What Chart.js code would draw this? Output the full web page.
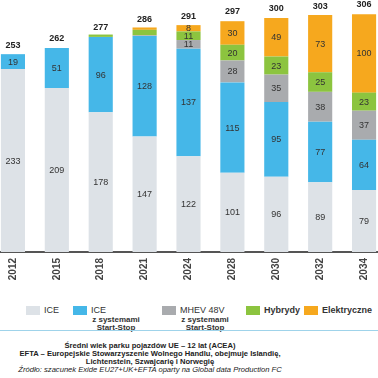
<!DOCTYPE html>
<html><head><meta charset="utf-8">
<script src="https://cdn.jsdelivr.net/npm/chart.js@4"></script>
<style>
html,body{margin:0;padding:0;background:#fff;width:378px;height:378px;overflow:hidden;font-family:"Liberation Sans",Arial,sans-serif;}
#wrap{position:absolute;left:-9px;top:0;width:395px;height:284px;}
.sw{position:absolute;width:14px;height:9px;}
.lt{position:absolute;font-size:9px;color:#333;white-space:nowrap;line-height:9px;}
.sub{position:absolute;font-size:8px;font-weight:bold;color:#333;text-align:center;line-height:8px;white-space:nowrap;}
#sep{position:absolute;left:0;width:378px;top:330px;height:1px;background:#9fd3ea;}
.fn{position:absolute;left:0;width:300px;text-align:center;font-size:7.6px;font-weight:bold;color:#222;line-height:8px;white-space:nowrap;}
</style></head><body>
<div id="wrap"><canvas id="c"></canvas></div>
<div id="legend"></div>
<div id="sep"></div>
<div class="fn" style="top:342px">Średni wiek parku pojazdów UE – 12 lat (ACEA)</div>
<div class="fn" style="top:350px">EFTA – Europejskie Stowarzyszenie Wolnego Handlu, obejmuje Islandię,</div>
<div class="fn" style="top:358px">Lichtenstein, Szwajcarię i Norwegię</div>
<div class="fn" style="top:366px;font-weight:normal;font-style:italic;">Źródło: szacunek Exide EU27+UK+EFTA oparty na Global data Production FC</div>
<script>
const years = ["2012","2015","2018","2021","2024","2028","2030","2032","2034"];
const ice = [233,209,178,147,122,101,96,89,79];
const iceStartStop = [19,51,96,128,137,115,95,77,64];
const mhev = [0,0,0,1,11,28,35,38,37];
const hybrid = [0,0,3,7,11,20,23,25,23];
const electric = [0,0,0,3,8,30,49,73,100];
const totals = [253,262,277,286,291,297,300,303,306];

const seriesNames = ["ICE","ICE z systemami Start-Stop","MHEV 48V z systemami Start-Stop","Hybrydy","Elektryczne"];
const colors = ["#dde2e7","#45b7e8","#a9abae","#8cc43f","#f6a81e"];
const series = [ice, iceStartStop, mhev, hybrid, electric];

const labelPlugin = {
  id:'vals',
  afterDatasetsDraw(chart){
    const ctx = chart.ctx;
    ctx.save();
    ctx.textAlign='center';
    ctx.textBaseline='middle';
    chart.data.datasets.forEach((ds,di)=>{
      const meta = chart.getDatasetMeta(di);
      meta.data.forEach((bar,i)=>{
        const v = ds.data[i];
        if(v < 8) return;
        ctx.font = '9px "Liberation Sans", Arial, sans-serif';
        ctx.fillStyle = '#333';
        ctx.fillText(String(v), bar.x, (bar.y + bar.base)/2 + 0.5);
      });
    });
    const y = chart.scales.y, x = chart.scales.x;
    ctx.font = 'bold 9px "Liberation Sans", Arial, sans-serif';
    ctx.fillStyle = '#222';
    ctx.textBaseline='bottom';
    totals.forEach((t,i)=>{
      ctx.fillText(String(t), x.getPixelForValue(i), y.getPixelForValue(t) - 3);
    });
    ctx.restore();
  }
};

new Chart(document.getElementById('c'),{
  type:'bar',
  data:{labels:years,datasets:series.map((d,i)=>({label:seriesNames[i],data:d,backgroundColor:colors[i],borderWidth:0,categoryPercentage:1,barPercentage:0.55}))},
  options:{
    responsive:true,maintainAspectRatio:false,animation:false,
    layout:{padding:0},
    plugins:{legend:{display:false},tooltip:{enabled:false}},
    scales:{
      x:{stacked:true,grid:{display:false,drawTicks:false},
         border:{display:true,color:'#555',width:2},
         ticks:{minRotation:90,maxRotation:90,padding:6,color:'#444',font:{family:'"Liberation Sans", Arial, sans-serif',size:10,weight:'bold'}},
         afterFit(s){s.height=32;}},
      y:{stacked:true,display:false,min:0,max:321}
    }
  },
  plugins:[labelPlugin]
});

// legend (HTML)
const leg = document.getElementById('legend');
const items = [
  {x:26,label:"ICE",sub:null},
  {x:73,label:"ICE",sub:"z systemami<br>Start-Stop",subx:116},
  {x:162,label:"MHEV 48V",sub:"z systemami<br>Start-Stop",subx:205},
  {x:246,label:"Hybrydy",sub:null},
  {x:304,label:"Elektryczne",sub:null}
];
items.forEach((it,i)=>{
  const s=document.createElement('div');s.className='sw';s.style.left=it.x+'px';s.style.top='306px';s.style.background=colors[i];leg.appendChild(s);
  const t=document.createElement('div');t.className='lt';t.style.left=(it.x+18)+'px';t.style.top='306px';t.textContent=it.label;
  if(i>=3) t.style.fontWeight='bold';
  leg.appendChild(t);
  if(it.sub){const u=document.createElement('div');u.className='sub';u.style.left=(it.subx-30)+'px';u.style.width='60px';u.style.top='316px';u.innerHTML=it.sub;leg.appendChild(u);}
});
</script>
</body></html>
